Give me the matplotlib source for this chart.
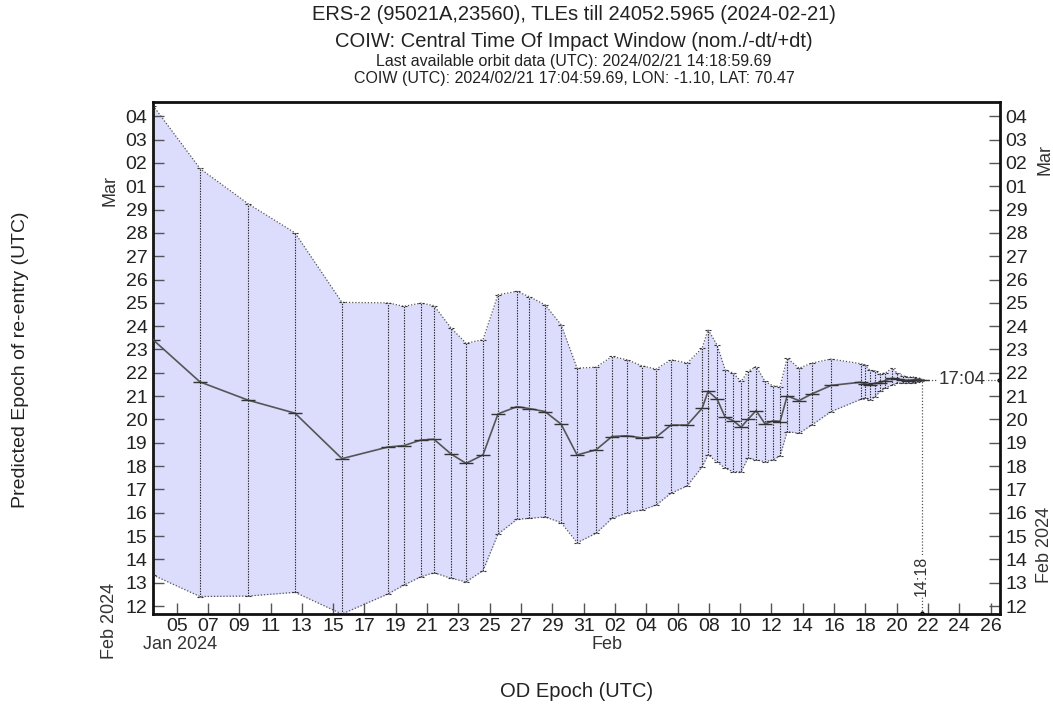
import matplotlib
matplotlib.use("Agg")
import matplotlib.pyplot as plt
import matplotlib.transforms as mtrans
from datetime import datetime, timedelta
import numpy as np

plt.rcParams['font.family'] = ['Liberation Sans', 'DejaVu Sans']

# OD epochs, day of year 2024 (1.0 = Jan 1 00:00)
epoch = [3.49, 6.49, 9.56, 12.56, 15.56, 18.50, 19.52, 20.61, 21.44, 22.53,
         23.49, 24.57, 25.53, 26.74, 27.51, 28.53, 29.56, 30.58, 31.79, 32.81,
         33.77, 34.73, 35.63, 36.58, 37.61, 38.57, 38.95, 39.52, 40.04, 40.55,
         41.06, 41.50, 42.02, 42.59, 43.10, 43.55, 44.00, 44.76, 45.59, 46.81,
         48.73, 48.98, 49.30, 49.62, 49.94, 50.26, 50.71, 51.03, 51.41, 51.73,
         52.05, 52.30, 52.5965]

# predicted re-entry epoch, day of year 2024 (nominal, +dt, -dt)
nominal = [54.42, 52.61, 51.83, 51.27, 49.32, 49.82, 49.88, 50.12, 50.15, 49.52,
           49.12, 49.48, 51.24, 51.55, 51.47, 51.34, 50.80, 49.48, 49.70, 50.27,
           50.30, 50.21, 50.24, 50.76, 50.76, 51.48, 52.21, 51.88, 51.10, 50.95,
           50.67, 51.01, 51.38, 50.81, 50.94, 50.91, 52.01, 51.81, 52.10, 52.46,
           52.60, 52.53, 52.48, 52.56, 52.58, 52.67, 52.77, 52.73, 52.70, 52.67,
           52.70, 52.70, 52.711]
upper = [64.46, 61.76, 60.25, 59.00, 56.02, 56.00, 55.85, 55.99, 55.88, 54.92,
         54.27, 54.42, 56.35, 56.49, 56.27, 55.92, 55.06, 53.20, 53.24, 53.70,
         53.56, 53.30, 53.16, 53.56, 53.42, 54.06, 54.85, 54.20, 53.13, 52.99,
         52.63, 53.06, 53.27, 52.63, 52.44, 52.41, 53.63, 53.20, 53.42, 53.59,
         53.39, 53.34, 53.10, 53.09, 52.96, 52.99, 53.20, 52.99, 52.87, 52.82,
         52.82, 52.79, 52.75]
lower = [44.33, 43.41, 43.43, 43.59, 42.66, 43.52, 43.90, 44.26, 44.43, 44.19,
         44.04, 44.52, 46.09, 46.72, 46.76, 46.82, 46.58, 45.72, 46.12, 46.76,
         47.00, 47.12, 47.33, 47.84, 48.15, 48.97, 49.48, 49.18, 48.91, 48.76,
         48.76, 49.34, 49.27, 49.19, 49.27, 49.44, 50.48, 50.41, 50.77, 51.34,
         51.87, 51.91, 51.84, 51.98, 52.20, 52.34, 52.48, 52.56, 52.56, 52.56,
         52.58, 52.61, 52.67]

last_orbit = 52.5965   # 2024/02/21 14:18
coiw = 52.711          # 2024/02/21 17:04

x_ticks = np.arange(5, 58, 2)      # Jan 05 .. Feb 26
y_ticks = np.arange(43, 65, 1)     # Feb 12 .. Mar 04

title1 = "ERS-2 (95021A,23560), TLEs till 24052.5965 (2024-02-21)"
title2 = "COIW: Central Time Of Impact Window (nom./-dt/+dt)"
title3 = "Last available orbit data (UTC): 2024/02/21 14:18:59.69"
title4 = "COIW (UTC): 2024/02/21 17:04:59.69, LON: -1.10, LAT: 70.47"


def day_label(v, pos=None):
    d = datetime(2024, 1, 1) + timedelta(days=float(v) - 1)
    return d.strftime('%d')


epoch = np.array(epoch)
nominal = np.array(nominal)
upper = np.array(upper)
lower = np.array(lower)

fig = plt.figure(figsize=(10.53, 7.06), dpi=100)
ax = fig.add_axes([0.1453, 0.1303, 0.8044, 0.7252])

ax.fill_between(epoch, lower, upper, color='#dcdcfc', lw=0, zorder=1)
ax.plot(epoch, upper, color='#555555', ls=(0, (1, 1.5)), lw=0.9, zorder=2)
ax.plot(epoch, lower, color='#555555', ls=(0, (1, 1.5)), lw=0.9, zorder=2)
ax.vlines(epoch, lower, upper, colors='#222222', linestyles=(0, (1.2, 1.2)),
          lw=0.8, zorder=3)
w = 0.17
ax.hlines(upper, epoch - w, epoch + w, colors='#333333',
          linestyles=(0, (2, 1.5)), lw=0.8, zorder=3)
ax.hlines(lower, epoch - w, epoch + w, colors='#333333',
          linestyles=(0, (2, 1.5)), lw=0.8, zorder=3)
ax.plot(epoch, nominal, color='#555555', lw=1.2, marker='_', ms=10,
        mew=1.0, mec='#333333', zorder=4)

# last orbit data / COIW markers
ax.vlines([last_orbit], 42.66, coiw, colors='#555555',
          linestyles=(0, (1, 1.5)), lw=0.9, zorder=3)
ax.plot([last_orbit], [42.7], marker='.', color='k', ms=4, clip_on=False)
ax.hlines([coiw], last_orbit, 57.6, colors='#555555',
          linestyles=(0, (1, 1.5)), lw=0.9, zorder=3)
ax.plot([57.55], [coiw], marker='.', color='k', ms=4, clip_on=False)
ax.text(55.15, coiw, "17:04", ha='center', va='center', fontsize=13.5,
        color='#333333', zorder=5,
        bbox=dict(facecolor='white', edgecolor='none', pad=1))
ax.text(last_orbit, 44.3, "14:18", ha='center', va='center', rotation=90,
        fontsize=11.5, color='#333333', zorder=5,
        bbox=dict(facecolor='white', edgecolor='none', pad=0.5))

ax.set_xlim(3.49, 57.6)
ax.set_ylim(42.66, 64.61)
ax.set_xticks(x_ticks)
ax.set_yticks(y_ticks)
ax.xaxis.set_major_formatter(plt.FuncFormatter(day_label))
ax.yaxis.set_major_formatter(plt.FuncFormatter(day_label))
ax.tick_params(axis='both', direction='in', length=8, width=1, color='#555555',
               labelsize=14, labelcolor='#222222', pad=4)
ax.tick_params(axis='y', right=True, labelright=True, pad=4)
ax.tick_params(axis='x', top=False, pad=3)
for s in ax.spines.values():
    s.set_linewidth(2)
    s.set_color('#111111')

# month labels
tr_x = mtrans.blended_transform_factory(ax.transData, ax.transAxes)
ax.text(5.2, -0.06, "Jan 2024", transform=tr_x, ha='center', va='center',
        fontsize=13, color='#333333')
ax.text(32.47, -0.06, "Feb", transform=tr_x, ha='center', va='center',
        fontsize=13, color='#333333')
ax.text(-0.051, -0.014, "Feb 2024", transform=ax.transAxes, rotation=90,
        ha='center', va='center', fontsize=13, color='#333333')
ax.text(-0.051, 0.828, "Mar", transform=ax.transAxes, rotation=90,
        ha='center', va='center', fontsize=13, color='#333333')
ax.text(1.053, 0.887, "Mar", transform=ax.transAxes, rotation=90,
        ha='center', va='center', fontsize=13, color='#333333')
ax.text(1.053, 0.135, "Feb 2024", transform=ax.transAxes, rotation=90,
        ha='center', va='center', fontsize=13, color='#333333')

fig.text(0.545, 0.9788, title1, ha='center', va='center', fontsize=14.5, color='#222222')
fig.text(0.545, 0.9419, title2, ha='center', va='center', fontsize=14.5, color='#222222')
fig.text(0.545, 0.9122, title3, ha='center', va='center', fontsize=11.5, color='#222222')
fig.text(0.545, 0.8895, title4, ha='center', va='center', fontsize=11.5, color='#222222')

fig.text(0.019, 0.49, "Predicted Epoch of re-entry (UTC)", rotation=90,
         ha='center', va='center', fontsize=14, color='#222222')
fig.text(0.548, 0.02, "OD Epoch (UTC)", ha='center', va='center',
         fontsize=14.5, color='#222222')

fig.savefig('out.png', dpi=100)
